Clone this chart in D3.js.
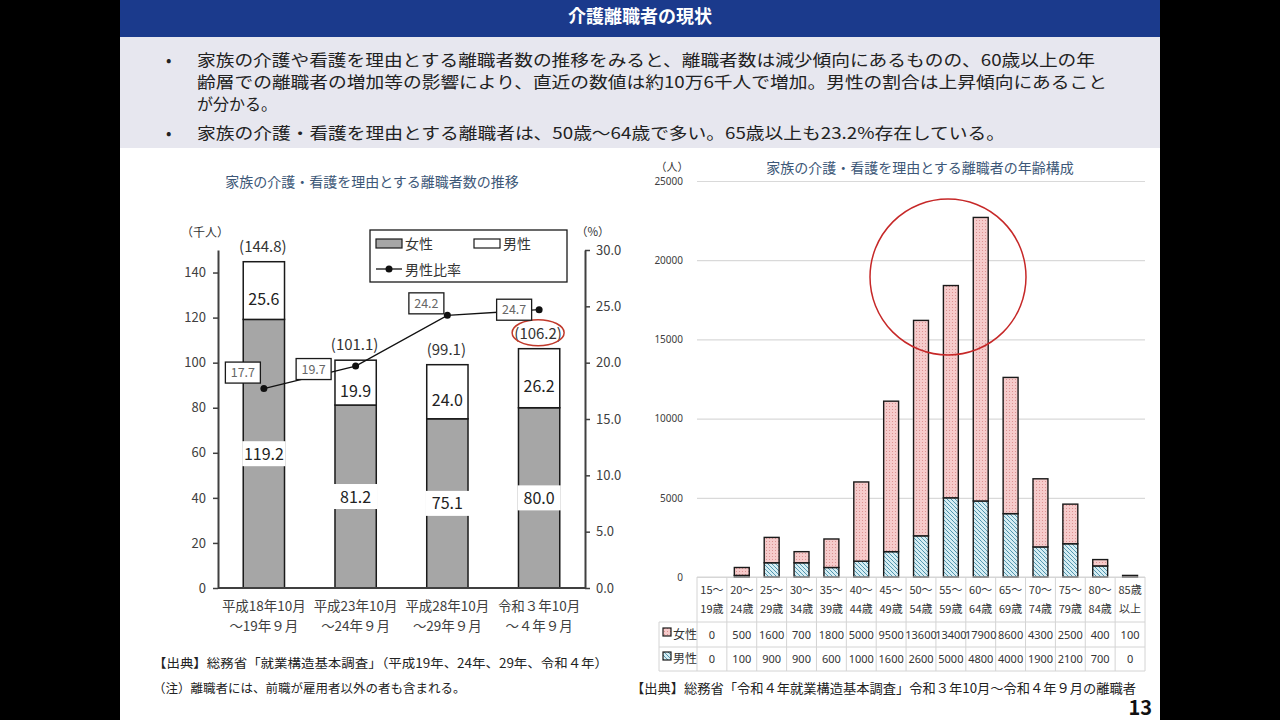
<!DOCTYPE html>
<html>
<head>
<meta charset="utf-8">
<script src="https://cdn.jsdelivr.net/npm/d3@7"></script>
<style>
  body { margin: 0; background: #000; }
  svg { display: block; font-family: "Noto Sans CJK JP", "Noto Sans", sans-serif; }
</style>
</head>
<body>
<svg id="slide" width="1280" height="720"></svg>
<script>
// left chart: 介護・看護を理由とする離職者数の推移 (千人)
var periodTop = ['平成18年10月', '平成23年10月', '平成28年10月', '令和３年10月']
var periodBottom = ['～19年９月', '～24年９月', '～29年９月', '～４年９月']
var female = [119.2, 81.2, 75.1, 80.0]
var male = [25.6, 19.9, 24.0, 26.2]
var total = [144.8, 101.1, 99.1, 106.2]
var maleRatio = [17.7, 19.7, 24.2, 24.7]
var countTicks = [0, 20, 40, 60, 80, 100, 120, 140]
var ratioTicks = [0, 5, 10, 15, 20, 25, 30]

// right chart: 年齢構成 (人)
var ageTop = ['15～', '20～', '25～', '30～', '35～', '40～', '45～', '50～', '55～', '60～', '65～', '70～', '75～', '80～', '85歳']
var ageBottom = ['19歳', '24歳', '29歳', '34歳', '39歳', '44歳', '49歳', '54歳', '59歳', '64歳', '69歳', '74歳', '79歳', '84歳', '以上']
var ageFemale = [0, 500, 1600, 700, 1800, 5000, 9500, 13600, 13400, 17900, 8600, 4300, 2500, 400, 100]
var ageMale = [0, 100, 900, 900, 600, 1000, 1600, 2600, 5000, 4800, 4000, 1900, 2100, 700, 0]
var ageTicks = [0, 5000, 10000, 15000, 20000, 25000]

var bullets = [
  ['家族の介護や看護を理由とする離職者数の推移をみると、離職者数は減少傾向にあるものの、60歳以上の年',
   '齢層での離職者の増加等の影響により、直近の数値は約10万6千人で増加。男性の割合は上昇傾向にあること',
   'が分かる。'],
  ['家族の介護・看護を理由とする離職者は、50歳～64歳で多い。65歳以上も23.2%存在している。']
]

var svg = d3.select('#slide')
  , defs = svg.append('defs')

// patterns for the age chart
var dots = defs.append('pattern').attr('id', 'dots')
  .attr('width', 3).attr('height', 3).attr('patternUnits', 'userSpaceOnUse')
dots.append('rect').attr('width', 3).attr('height', 3).attr('fill', '#f6cbcb')
dots.append('rect').attr('x', 1).attr('y', 1).attr('width', 1).attr('height', 1).attr('fill', '#dc9292')

var hatch = defs.append('pattern').attr('id', 'hatch')
  .attr('width', 4).attr('height', 4).attr('patternUnits', 'userSpaceOnUse')
hatch.append('rect').attr('width', 4).attr('height', 4).attr('fill', '#d6edf3')
hatch.append('path').attr('d', 'M-1,-1 l2,2 M0,0 l4,4 M3,3 l2,2')
  .attr('stroke', '#4e93ad').attr('stroke-width', 0.9)

// slide frame
svg.append('rect').attr('x', 120).attr('y', 0).attr('width', 1040).attr('height', 720).attr('fill', '#fff')
svg.append('rect').attr('x', 120).attr('y', 0).attr('width', 1040).attr('height', 37).attr('fill', '#1b3a8c')
svg.append('rect').attr('x', 120).attr('y', 37).attr('width', 1040).attr('height', 111).attr('fill', '#e7e7ef')
svg.append('text').text('介護離職者の現状')
  .attr('x', 640).attr('y', 23).attr('text-anchor', 'middle')
  .attr('fill', '#fff').attr('font-size', 18).attr('font-weight', 'bold')

// bullet text
var lineY = [[66, 88, 110], [139]]
  , lineW = [[898, 910, 80], [808]]
bullets.forEach(function(lines, b){
  svg.append('text').text('•').attr('x', 166).attr('y', lineY[b][0])
    .attr('font-size', 16).attr('fill', '#222')
  lines.forEach(function(t, i){
    svg.append('text').text(t).attr('x', 197).attr('y', lineY[b][i])
      .attr('font-size', 16).attr('fill', '#222')
      .attr('textLength', lineW[b][i]).attr('lengthAdjust', 'spacingAndGlyphs')
  })
})

// ---------------- left chart ----------------
var L = { left: 218, right: 585, top: 250, bottom: 588 }
var xL = d3.scaleBand().domain(d3.range(female.length))
  .range([L.left, L.right]).paddingInner(0.55).paddingOuter(0.275)
var yL = d3.scaleLinear().domain([0, 150]).range([L.bottom, L.top])
var yP = d3.scaleLinear().domain([0, 30]).range([L.bottom, L.top])
var bw = xL.bandwidth()
var cx = function(i){ return xL(i) + bw / 2 }

svg.append('text').text('家族の介護・看護を理由とする離職者数の推移')
  .attr('x', 372).attr('y', 187).attr('text-anchor', 'middle')
  .attr('font-size', 14).attr('fill', '#3d5878')

var gl = svg.append('g')

var axL = gl.append('g').attr('transform', 'translate(' + L.left + ',0)')
  .call(d3.axisLeft(yL).tickValues(countTicks).tickSize(5).tickSizeOuter(0))
var axR = gl.append('g').attr('transform', 'translate(' + L.right + ',0)')
  .call(d3.axisRight(yP).tickValues(ratioTicks).tickSize(5).tickSizeOuter(0).tickFormat(d3.format('.1f')))
;[axL, axR].forEach(function(ax){
  ax.select('.domain').attr('stroke', '#404040').attr('stroke-width', 2)
  ax.selectAll('.tick line').attr('stroke', '#404040').attr('stroke-width', 1.5)
  ax.selectAll('.tick text').attr('font-size', 13).attr('fill', '#404040')
    .attr('font-family', '"Noto Sans CJK JP", sans-serif')
})
axL.selectAll('.tick text').attr('x', -12)
axR.selectAll('.tick text').attr('x', 11)

gl.append('text').text('（千人）').attr('x', 181).attr('y', 237).attr('font-size', 12).attr('fill', '#333')
gl.append('text').text('（%）').attr('x', 576).attr('y', 236).attr('font-size', 11.5).attr('fill', '#333')

// stacked bars: female below, male above
gl.selectAll('rect.female').data(female).enter().append('rect').attr('class', 'female')
  .attr('x', function(d, i){ return xL(i) })
  .attr('y', function(d){ return yL(d) })
  .attr('width', bw)
  .attr('height', function(d){ return yL(0) - yL(d) })
  .attr('fill', '#a6a6a6').attr('stroke', '#1a1a1a').attr('stroke-width', 1.5)
gl.selectAll('rect.male').data(male).enter().append('rect').attr('class', 'male')
  .attr('x', function(d, i){ return xL(i) })
  .attr('y', function(d, i){ return yL(female[i] + d) })
  .attr('width', bw)
  .attr('height', function(d, i){ return yL(female[i]) - yL(female[i] + d) })
  .attr('fill', '#fff').attr('stroke', '#1a1a1a').attr('stroke-width', 1.5)

gl.append('line').attr('x1', L.left).attr('x2', L.right)
  .attr('y1', L.bottom).attr('y2', L.bottom).attr('stroke', '#404040').attr('stroke-width', 2)

// female value labels in white boxes
female.forEach(function(v, i){
  var y = (yL(0) + yL(v)) / 2
  gl.append('rect').attr('x', xL(i) - 1).attr('y', y - 12.5).attr('width', bw + 2).attr('height', 25).attr('fill', '#fff')
  gl.append('text').text(v.toFixed(1)).attr('x', cx(i)).attr('y', y + 6)
    .attr('text-anchor', 'middle').attr('font-size', 16).attr('fill', '#222')
})
// male value labels
male.forEach(function(v, i){
  var y = (yL(female[i]) + yL(total[i])) / 2 + 8
  gl.append('text').text(v.toFixed(1)).attr('x', cx(i)).attr('y', y + 6)
    .attr('text-anchor', 'middle').attr('font-size', 16).attr('fill', '#222')
})
// totals
total.forEach(function(v, i){
  gl.append('text').text('(' + v.toFixed(1) + ')').attr('x', cx(i) - 1).attr('y', yL(v) - 10)
    .attr('text-anchor', 'middle').attr('font-size', 15).attr('fill', '#333')
})
gl.append('ellipse').attr('cx', cx(3) - 1).attr('cy', yL(total[3]) - 16)
  .attr('rx', 26).attr('ry', 13).attr('fill', 'none').attr('stroke', '#c0392b').attr('stroke-width', 1.5)

// male ratio line
var line = d3.line().x(function(d, i){ return cx(i) }).y(function(d){ return yP(d) })
gl.append('path').datum(maleRatio).attr('d', line)
  .attr('fill', 'none').attr('stroke', '#111').attr('stroke-width', 1.3)
gl.selectAll('circle.pt').data(maleRatio).enter().append('circle').attr('class', 'pt')
  .attr('cx', function(d, i){ return cx(i) }).attr('cy', function(d){ return yP(d) })
  .attr('r', 3.5).attr('fill', '#111')

var boxOff = [[-21, -16], [-42, 3], [-21, -12], [-25, 0]]
maleRatio.forEach(function(v, i){
  var bx = cx(i) + boxOff[i][0], by = yP(v) + boxOff[i][1]
  gl.append('rect').attr('x', bx - 17.5).attr('y', by - 10.5).attr('width', 35).attr('height', 21)
    .attr('fill', '#fff').attr('stroke', '#1a1a1a').attr('stroke-width', 1.3)
  gl.append('text').text(v.toFixed(1)).attr('x', bx).attr('y', by + 4.5)
    .attr('text-anchor', 'middle').attr('font-size', 12.5).attr('fill', '#666')
})

// legend
var lg = gl.append('g')
lg.append('rect').attr('x', 370).attr('y', 230).attr('width', 197).attr('height', 52)
  .attr('fill', '#fff').attr('stroke', '#1a1a1a').attr('stroke-width', 1.3)
lg.append('rect').attr('x', 376).attr('y', 239).attr('width', 26).attr('height', 9)
  .attr('fill', '#a6a6a6').attr('stroke', '#1a1a1a').attr('stroke-width', 1.2)
lg.append('text').text('女性').attr('x', 405).attr('y', 249).attr('font-size', 14).attr('fill', '#333')
lg.append('rect').attr('x', 474).attr('y', 239).attr('width', 26).attr('height', 9)
  .attr('fill', '#fff').attr('stroke', '#1a1a1a').attr('stroke-width', 1.2)
lg.append('text').text('男性').attr('x', 503).attr('y', 249).attr('font-size', 14).attr('fill', '#333')
lg.append('line').attr('x1', 376).attr('x2', 402).attr('y1', 269).attr('y2', 269).attr('stroke', '#111').attr('stroke-width', 1.3)
lg.append('circle').attr('cx', 389).attr('cy', 269).attr('r', 3.5).attr('fill', '#111')
lg.append('text').text('男性比率').attr('x', 405).attr('y', 275).attr('font-size', 14).attr('fill', '#333')

// period labels
periodTop.forEach(function(t, i){
  gl.append('text').text(t).attr('x', cx(i)).attr('y', 611)
    .attr('text-anchor', 'middle').attr('font-size', 13.5).attr('fill', '#404040')
  gl.append('text').text(periodBottom[i]).attr('x', cx(i)).attr('y', 631)
    .attr('text-anchor', 'middle').attr('font-size', 13.5).attr('fill', '#404040')
})

svg.append('text').text('【出典】総務省「就業構造基本調査」（平成19年、24年、29年、令和４年）')
  .attr('x', 153).attr('y', 668).attr('font-size', 12.5).attr('fill', '#222')
  .attr('textLength', 455).attr('lengthAdjust', 'spacingAndGlyphs')
svg.append('text').text('（注）離職者には、前職が雇用者以外の者も含まれる。')
  .attr('x', 153).attr('y', 693).attr('font-size', 12.5).attr('fill', '#222')

// ---------------- right chart ----------------
var R = { left: 697, right: 1145, top: 181, bottom: 577 }
var xA = d3.scaleBand().domain(d3.range(ageTop.length))
  .range([R.left, R.right]).paddingInner(0.5).paddingOuter(0.25)
var yA = d3.scaleLinear().domain([0, 25000]).range([R.bottom, R.top])
var colW = xA.step()

svg.append('text').text('家族の介護・看護を理由とする離職者の年齢構成')
  .attr('x', 920).attr('y', 173).attr('text-anchor', 'middle')
  .attr('font-size', 14).attr('fill', '#3d5878')
svg.append('text').text('（人）').attr('x', 672).attr('y', 171)
  .attr('text-anchor', 'middle').attr('font-size', 11).attr('fill', '#333')

var gr = svg.append('g')
var grid = gr.append('g').attr('transform', 'translate(' + R.left + ',0)')
  .call(d3.axisLeft(yA).tickValues(ageTicks).tickSize(-(R.right - R.left)).tickPadding(14).tickFormat(d3.format('d')))
grid.select('.domain').remove()
grid.selectAll('.tick line').attr('stroke', '#d9d9d9').attr('stroke-width', 1.2)
grid.selectAll('.tick text').attr('font-size', 10).attr('fill', '#404040')
  .attr('font-family', '"Noto Sans", sans-serif')

// stacked bars: male below (hatched), female above (dotted); zero segments skipped
var idx = d3.range(ageTop.length)
gr.selectAll('rect.amale').data(idx.filter(function(i){ return ageMale[i] > 0 }))
  .enter().append('rect').attr('class', 'amale')
  .attr('x', function(i){ return xA(i) })
  .attr('y', function(i){ return yA(ageMale[i]) })
  .attr('width', xA.bandwidth())
  .attr('height', function(i){ return yA(0) - yA(ageMale[i]) })
  .attr('fill', 'url(#hatch)').attr('stroke', '#1a1a1a').attr('stroke-width', 1.4)
gr.selectAll('rect.afemale').data(idx.filter(function(i){ return ageFemale[i] > 0 }))
  .enter().append('rect').attr('class', 'afemale')
  .attr('x', function(i){ return xA(i) })
  .attr('y', function(i){ return yA(ageMale[i] + ageFemale[i]) })
  .attr('width', xA.bandwidth())
  .attr('height', function(i){ return yA(ageMale[i]) - yA(ageMale[i] + ageFemale[i]) })
  .attr('fill', 'url(#dots)').attr('stroke', '#1a1a1a').attr('stroke-width', 1.4)

// data table under the chart
var rowY = [577, 622, 647, 671]
  , tl = gr.append('g').attr('stroke', '#d4d4d4').attr('stroke-width', 1)
d3.range(ageTop.length + 1).forEach(function(i){
  var x = R.left + i * colW
  tl.append('line').attr('x1', x).attr('x2', x).attr('y1', rowY[0]).attr('y2', rowY[3])
})
tl.append('line').attr('x1', 659).attr('x2', 659).attr('y1', rowY[1]).attr('y2', rowY[3])
;[rowY[1], rowY[2], rowY[3]].forEach(function(y){
  tl.append('line').attr('x1', 659).attr('x2', R.right).attr('y1', y).attr('y2', y)
})
tl.append('line').attr('x1', R.left).attr('x2', R.right).attr('y1', rowY[0]).attr('y2', rowY[0])

ageTop.forEach(function(t, i){
  var x = R.left + (i + 0.5) * colW
  gr.append('text').text(t).attr('x', x).attr('y', 594).attr('text-anchor', 'middle')
    .attr('font-size', 11).attr('fill', '#333')
  gr.append('text').text(ageBottom[i]).attr('x', x).attr('y', 613).attr('text-anchor', 'middle')
    .attr('font-size', 11).attr('fill', '#333')
  gr.append('text').text(ageFemale[i]).attr('x', x).attr('y', 639).attr('text-anchor', 'middle')
    .attr('font-size', 11).attr('fill', '#333').attr('font-family', '"Noto Sans", sans-serif')
  gr.append('text').text(ageMale[i]).attr('x', x).attr('y', 663).attr('text-anchor', 'middle')
    .attr('font-size', 11).attr('fill', '#333').attr('font-family', '"Noto Sans", sans-serif')
})
gr.append('rect').attr('x', 663).attr('y', 628).attr('width', 8).attr('height', 8)
  .attr('fill', 'url(#dots)').attr('stroke', '#1a1a1a').attr('stroke-width', 1.2)
gr.append('text').text('女性').attr('x', 673).attr('y', 639).attr('font-size', 12).attr('fill', '#333')
gr.append('rect').attr('x', 663).attr('y', 652).attr('width', 8).attr('height', 8)
  .attr('fill', 'url(#hatch)').attr('stroke', '#1a1a1a').attr('stroke-width', 1.2)
gr.append('text').text('男性').attr('x', 673).attr('y', 663).attr('font-size', 12).attr('fill', '#333')

gr.append('circle').attr('cx', 948).attr('cy', 277).attr('r', 78)
  .attr('fill', 'none').attr('stroke', '#c62828').attr('stroke-width', 1.5)

svg.append('text').text('【出典】総務省「令和４年就業構造基本調査」令和３年10月～令和４年９月の離職者')
  .attr('x', 631).attr('y', 693).attr('font-size', 13).attr('fill', '#222')
  .attr('textLength', 505).attr('lengthAdjust', 'spacingAndGlyphs')

svg.append('text').text('13').attr('x', 1152).attr('y', 715).attr('text-anchor', 'end')
  .attr('font-size', 20).attr('font-weight', 'bold').attr('fill', '#111')
</script>
</body>
</html>
